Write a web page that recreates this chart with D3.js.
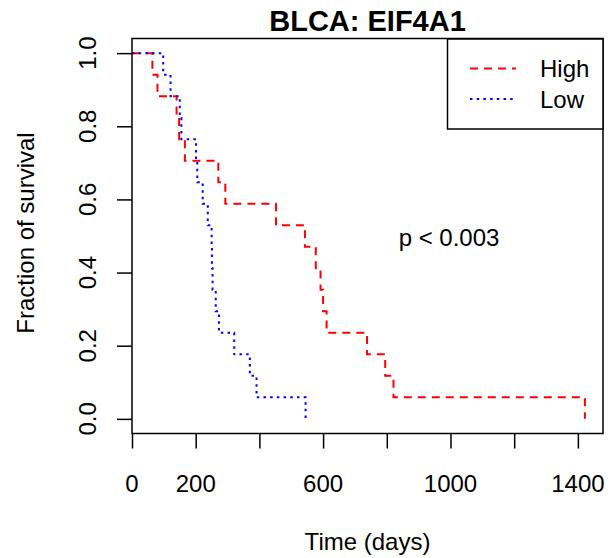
<!DOCTYPE html>
<html>
<head>
<meta charset="utf-8">
<script src="https://cdn.jsdelivr.net/npm/d3@7"></script>
<style>
  html, body { margin: 0; padding: 0; background: #fff; }
  text { font-family: "Liberation Sans", Arial, Helvetica, sans-serif; fill: #000; }
</style>
</head>
<body>
<svg id="chart" width="615" height="558"></svg>
<script>
// ---- data ----
const title = "BLCA: EIF4A1";
const seriesNames = ["High", "Low"];
const highTimes = [64, 80, 140, 148, 166, 271, 293, 452, 543, 577, 592, 600, 611, 738, 795, 821, 1422];
const highSurv  = [16/17, 15/17, 14/17, 13/17, 12/17, 11/17, 10/17, 9/17, 8/17, 7/17, 6/17, 5/17, 4/17, 3/17, 2/17, 1/17, 0];
const lowTimes  = [98, 121, 150, 155, 201, 205, 222, 238, 250, 251, 253, 263, 273, 321, 370, 391, 545];
const lowSurv   = [16/17, 15/17, 14/17, 13/17, 12/17, 11/17, 10/17, 9/17, 8/17, 7/17, 6/17, 5/17, 4/17, 3/17, 2/17, 1/17, 0];
const xTicks = [0, 200, 400, 600, 800, 1000, 1200, 1400];
const xTickLabels = ["0", "200", "", "600", "", "1000", "", "1400"];
const yTicks = [0, 0.2, 0.4, 0.6, 0.8, 1.0];
const pText = "p < 0.003";

// ---- layout ----
const svg = d3.select("#chart");
const pLeft = 132, pRight = 603, pTop = 38.5, pBottom = 433.5;
const FS = 24;

const xMax = d3.max(highTimes.concat(lowTimes));
const x = d3.scaleLinear().domain([0, xMax * 1.04]).range([pLeft, pRight]);
const y = d3.scaleLinear().domain([-0.04, 1.04]).range([pBottom, pTop]);

function txt(g, str, tx, ty, opts = {}) {
  const t = g.append("text")
    .attr("transform", `translate(${tx},${ty})` + (opts.rotate ? ` rotate(${opts.rotate})` : ""))
    .attr("text-anchor", opts.anchor || "middle")
    .attr("font-size", opts.size || FS)
    .text(str);
  if (opts.bold) t.attr("font-weight", "bold");
  return t;
}

// curves
const line = d3.line().x(d => x(d[0])).y(d => y(d[1])).curve(d3.curveStepAfter);
function pts(times, surv) {
  const p = [[0, 1]];
  times.forEach((t, i) => p.push([t, surv[i]]));
  return p;
}
svg.append("path").datum(pts(highTimes, highSurv))
  .attr("d", line).attr("fill", "none").attr("stroke", "#ff0000")
  .attr("stroke-width", 2).attr("stroke-dasharray", "8,6");
svg.append("path").datum(pts(lowTimes, lowSurv))
  .attr("d", line).attr("fill", "none").attr("stroke", "#0000ff")
  .attr("stroke-width", 2).attr("stroke-dasharray", "2.5,4.2");

// box
svg.append("rect").attr("x", pLeft).attr("y", pTop)
  .attr("width", pRight - pLeft).attr("height", pBottom - pTop)
  .attr("fill", "none").attr("stroke", "#000").attr("stroke-width", 1.5);

// x axis
const xAxis = d3.axisBottom(x).tickValues(xTicks).tickSize(15).tickFormat("");
const gx = svg.append("g").attr("transform", `translate(0,${pBottom})`).call(xAxis);
gx.select(".domain").remove();
gx.selectAll(".tick line").attr("stroke", "#000").attr("stroke-width", 1.5);
xTicks.forEach((v, i) => { if (xTickLabels[i]) txt(svg, xTickLabels[i], x(v), 491.5); });

// y axis
const yAxis = d3.axisLeft(y).tickValues(yTicks).tickSize(15).tickFormat("");
const gy = svg.append("g").attr("transform", `translate(${pLeft},0)`).call(yAxis);
gy.select(".domain").remove();
gy.selectAll(".tick line").attr("stroke", "#000").attr("stroke-width", 1.5);
yTicks.forEach(v => txt(svg, d3.format(".1f")(v), 96, y(v), { rotate: -90 }));

// titles
txt(svg, title, (pLeft + pRight) / 2, 31, { bold: true, size: 29 });
txt(svg, "Time (days)", (pLeft + pRight) / 2, 549.5);
txt(svg, "Fraction of survival", 34, 233, { rotate: -90 });
txt(svg, pText, 449, 245.5);

// legend
const lg = svg.append("g");
lg.append("rect").attr("x", 447.5).attr("y", 39).attr("width", pRight - 447.5).attr("height", 90)
  .attr("fill", "#fff").attr("stroke", "#000").attr("stroke-width", 1.5);
const legY = [68.5, 99];
const legStyle = [{ c: "#ff0000", d: "8,6" }, { c: "#0000ff", d: "2.5,4.2" }];
seriesNames.forEach((n, i) => {
  lg.append("line").attr("x1", 470).attr("x2", 516).attr("y1", legY[i]).attr("y2", legY[i])
    .attr("stroke", legStyle[i].c).attr("stroke-width", 2).attr("stroke-dasharray", legStyle[i].d);
  txt(lg, n, 540, legY[i] + 8.5, { anchor: "start" });
});
</script>
</body>
</html>
